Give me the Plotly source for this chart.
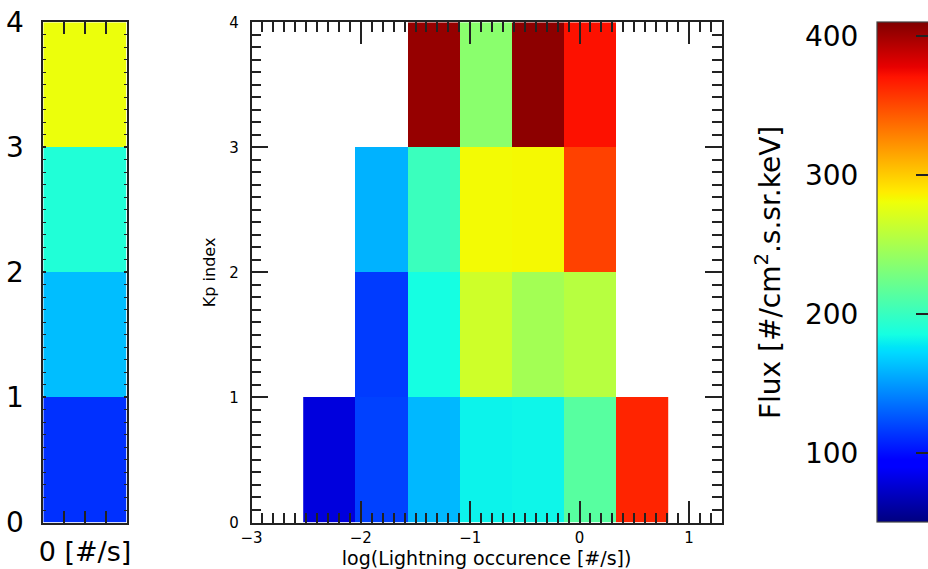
import numpy as np
import plotly.graph_objects as go

# ---------------- data ----------------
kp_edges = [0, 1, 2, 3, 4]
# flux at zero lightning occurrence for Kp 0-1, 1-2, 2-3, 3-4
zero_rate_flux = [112, 162, 190, 279]
# bin edges of log10(lightning occurrence [#/s])
lightning_edges = [-2.527, -2.050, -1.574, -1.097, -0.620, -0.144, 0.333, 0.810]
flux_kp0 = [79, 118, 160, 181, 182, 214, 364]
flux_kp1 = [None, 116, 185, 266, 247, 256, None]
flux_kp2 = [None, 158, 201, 282, 283, 353, None]
flux_kp3 = [None, None, 403, 236, 406, 371, None]
flux_ticks = [100, 200, 300, 400]
flux_range = [50, 410]
kp_ticks = [0, 1, 2, 3, 4]
lightning_ticks = [-3, -2, -1, 0, 1]

# ---------------- matplotlib "jet" colormap ----------------
_jet = {
    "red": [(0, 0), (0.35, 0), (0.66, 1), (0.89, 1), (1, 0.5)],
    "green": [(0, 0), (0.125, 0), (0.375, 1), (0.64, 1), (0.91, 0), (1, 0)],
    "blue": [(0, 0.5), (0.11, 1), (0.34, 1), (0.65, 0), (1, 0)],
}


def _chan(name, t):
    xs, ys = zip(*_jet[name])
    return float(np.interp(t, xs, ys))


_stops = sorted({p for seg in _jet.values() for p, _ in seg})
jet = [[t, "rgb({},{},{})".format(*(round(255 * _chan(c, t)) for c in ("red", "green", "blue")))]
       for t in _stops]

W, H = 928, 569
FONT = "DejaVu Sans"
LC = "#222222"


def px_x(p):
    return p / W


def px_y(p):
    return 1 - p / H


y_dom = [px_y(522.5), px_y(22.3)]

fig = go.Figure()

fig.add_trace(go.Heatmap(
    x=[-0.5, 0.5], y=kp_edges, z=[[v] for v in zero_rate_flux],
    coloraxis="coloraxis", xaxis="x", yaxis="y", hoverinfo="z"))

fig.add_trace(go.Heatmap(
    x=lightning_edges, y=kp_edges, z=[flux_kp0, flux_kp1, flux_kp2, flux_kp3],
    coloraxis="coloraxis", xaxis="x2", yaxis="y2", hoverongaps=False))

# empty trace so that the colour-scale label axis is drawn
fig.add_trace(go.Scatter(x=[], y=[], xaxis="x3", yaxis="y3", hoverinfo="skip"))

common = dict(showline=True, linecolor=LC, linewidth=1.5, mirror="allticks",
              showgrid=False, zeroline=False, ticks="inside", tickcolor=LC,
              tickwidth=1.5, automargin=False)

fig.update_layout(
    width=W, height=H, autosize=False,
    margin=dict(l=0, r=0, t=0, b=0, autoexpand=False),
    paper_bgcolor="white", plot_bgcolor="white",
    font=dict(family=FONT, color="black"),
    showlegend=False,
    coloraxis=dict(
        colorscale=jet, cmin=flux_range[0], cmax=flux_range[1],
        colorbar=dict(
            x=px_x(877), xanchor="left", xpad=0, ypad=0,
            y=px_y(272.4), yanchor="middle",
            len=500.2 / H, lenmode="fraction",
            thickness=52, thicknessmode="pixels",
            outlinewidth=1.2, outlinecolor="#444444",
            tickvals=flux_ticks, ticks="inside", ticklen=13,
            tickwidth=1.5, tickcolor=LC, showticklabels=False,
        ),
    ),
    xaxis=dict(domain=[px_x(43.3), px_x(126.7)], anchor="y", range=[-0.5, 0.5],
               tickvals=[0], ticktext=["0 [#/s]"],
               ticklen=12, tickfont=dict(size=27), ticklabelstandoff=4,
               minor=dict(tickvals=[-0.25, 0.25], ticks="inside", ticklen=12,
                          tickcolor=LC, tickwidth=1.5),
               **common),
    yaxis=dict(domain=y_dom, anchor="x", range=[0, 4], tickvals=kp_ticks,
               ticklen=3, tickfont=dict(size=28), ticklabelstandoff=12,
               minor=dict(dtick=0.1, ticks="inside", ticklen=3, tickcolor=LC, tickwidth=1.2),
               **common),
    xaxis2=dict(domain=[px_x(251.5), px_x(721.7)], anchor="y2", range=[-3, 1.3],
                tickvals=lightning_ticks, ticklen=22, tickfont=dict(size=15),
                ticklabelstandoff=1,
                minor=dict(dtick=0.1, ticks="inside", ticklen=10, tickcolor=LC, tickwidth=1.5),
                title=dict(text="log(Lightning occurence [#/s])", font=dict(size=19), standoff=2),
                **common),
    yaxis2=dict(domain=y_dom, anchor="x2", range=[0, 4], tickvals=kp_ticks,
                ticklen=17, tickfont=dict(size=15), ticklabelstandoff=8,
                minor=dict(dtick=0.1, ticks="inside", ticklen=10, tickcolor=LC, tickwidth=1.5),
                title=dict(text="Kp index", font=dict(size=16), standoff=10),
                **common),
    xaxis3=dict(domain=[px_x(877), 1], anchor="y3", range=[0, 1], visible=False),
    yaxis3=dict(domain=y_dom, anchor="x3", range=flux_range, tickvals=flux_ticks,
                ticks="outside", ticklen=12, tickcolor="rgba(0,0,0,0)",
                showline=False, showgrid=False, zeroline=False, automargin=False,
                tickfont=dict(size=28),
                title=dict(text="Flux [#/cm<sup>2</sup>.s.sr.keV]", font=dict(size=28), standoff=16)),
)

fig.write_html("out.html")
